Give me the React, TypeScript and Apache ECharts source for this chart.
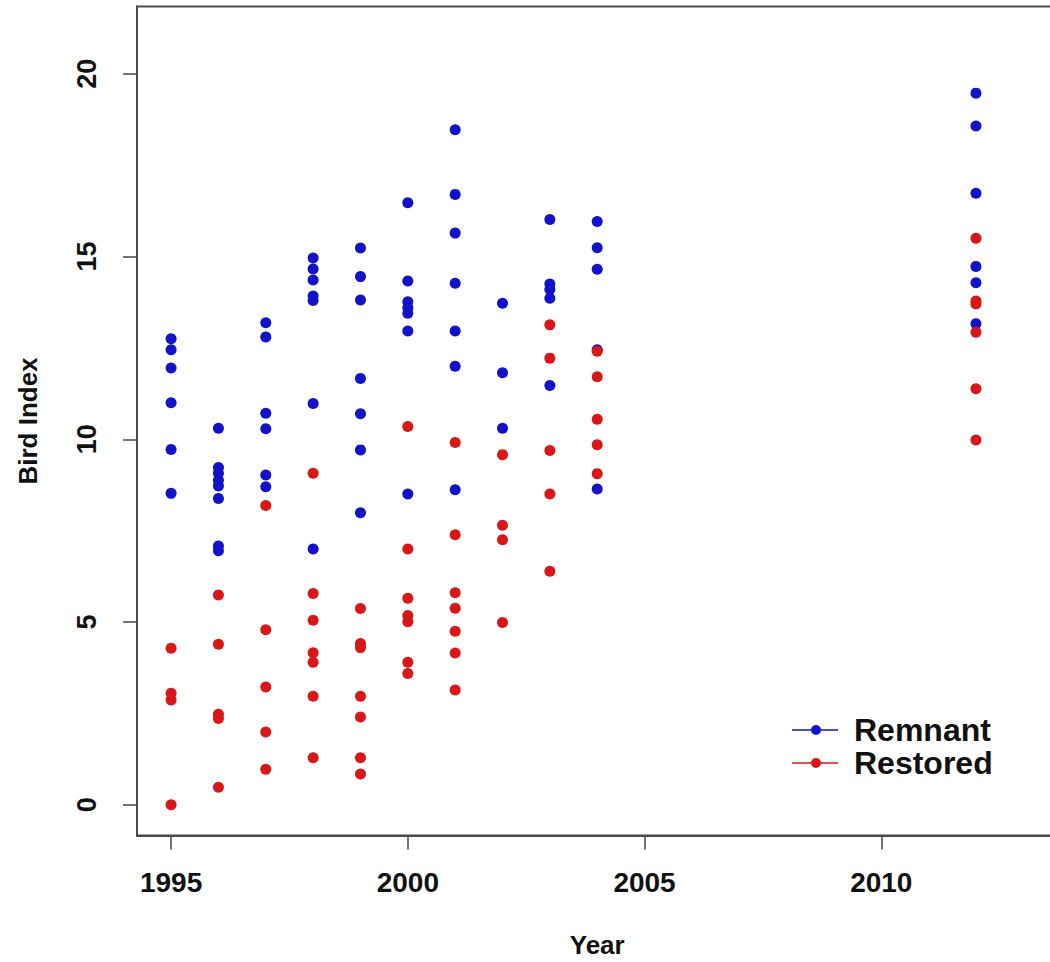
import { useEffect, useRef } from "react";
import * as echarts from "echarts";

const years = [1995, 1996, 1997, 1998, 1999, 2000, 2001, 2002, 2003, 2004, 2012];

const remnantValues: number[][] = [
  [12.75, 12.45, 11.95, 11.0, 9.72, 8.52],
  [10.3, 9.23, 9.07, 8.88, 8.72, 8.38, 7.08, 6.95],
  [13.19, 12.8, 10.71, 10.29, 9.02, 8.7],
  [14.96, 14.66, 14.36, 13.92, 13.8, 10.98, 7.0],
  [15.23, 14.45, 13.81, 11.66, 10.7, 9.71, 7.99],
  [16.47, 14.33, 13.76, 13.6, 13.45, 12.96, 8.5],
  [18.47, 16.7, 15.64, 14.27, 12.96, 12.0, 8.62],
  [13.72, 11.82, 10.3],
  [16.01, 14.25, 14.1, 13.86, 11.47],
  [15.96, 15.24, 14.65, 12.45, 8.64],
  [19.47, 18.57, 16.73, 14.73, 14.28, 13.16],
];

const restoredValues: number[][] = [
  [4.28, 3.05, 2.87, 0.0],
  [5.74, 4.39, 2.48, 2.36, 0.48],
  [8.19, 4.79, 3.22, 1.99, 0.97],
  [9.07, 5.78, 5.05, 4.16, 3.9, 2.97, 1.29],
  [5.37, 4.41, 4.3, 2.97, 2.4, 1.29, 0.84],
  [10.35, 7.0, 5.65, 5.18, 5.01, 3.9, 3.59],
  [9.91, 7.39, 5.8, 5.38, 4.75, 4.15, 3.14],
  [9.58, 7.65, 7.25, 4.99],
  [13.13, 12.22, 9.69, 8.5, 6.39],
  [12.41, 11.71, 10.55, 9.85, 9.06],
  [15.5, 13.78, 13.7, 12.93, 11.38, 9.98],
];

const xTicks = [1995, 2000, 2005, 2010];
const yTicks = [0, 5, 10, 15, 20];

const BLUE = "#1212c8";
const RED = "#d81818";
const FONT = "'Liberation Sans', Arial, Helvetica, sans-serif";
const BOX = "#4a4a4a";

function toPoints(vals: number[][]): number[][] {
  const out: number[][] = [];
  years.forEach((y, i) => vals[i].forEach((v) => out.push([y, v])));
  return out;
}

const legendIcon =
  "path://M0,4.3 L46,4.3 L46,5.7 L0,5.7 Z M29,5 A5,5 0 1 1 19,5 A5,5 0 1 1 29,5 Z";

export default function App() {
  const ref = useRef<HTMLDivElement>(null);

  useEffect(() => {
    if (!ref.current) return;
    const chart = echarts.init(ref.current, null, { renderer: "svg" });
    const tickStyle = { color: "#444", width: 1.5 };
    chart.setOption({
      animation: false,
      backgroundColor: "#ffffff",
      textStyle: { fontFamily: FONT },
      grid: {
        left: 137,
        top: 6.5,
        width: 920.4,
        height: 829,
        containLabel: false,
        outerBoundsMode: "none",
        show: true,
        borderColor: BOX,
        borderWidth: 2,
        backgroundColor: "transparent",
      },
      legend: {
        orient: "vertical",
        left: 792,
        top: 714,
        padding: 0,
        itemWidth: 46,
        itemHeight: 10,
        itemGap: 1,
        textStyle: {
          fontFamily: FONT,
          fontSize: 32,
          fontWeight: "bold",
          color: "#111",
          lineHeight: 32,
          padding: [0, 0, 0, 11],
        },
        data: [
          { name: "Remnant", icon: legendIcon },
          { name: "Restored", icon: legendIcon },
        ],
      },
      xAxis: {
        type: "value",
        position: "bottom",
        min: 1994.28,
        max: 2013.72,
        splitLine: { show: false },
        axisLine: { show: true, onZero: false, lineStyle: { color: BOX, width: 2 } },
        axisTick: {
          show: true,
          inside: false,
          customValues: xTicks,
          length: 14,
          lineStyle: tickStyle,
        },
        axisLabel: {
          customValues: xTicks,
          formatter: (v: number) => String(v),
          fontSize: 28,
          fontWeight: "bold",
          color: "#111",
          margin: 33,
          fontFamily: FONT,
        },
        name: "Year",
        nameLocation: "middle",
        nameGap: 96,
        nameTextStyle: {
          fontSize: 26,
          fontWeight: "bold",
          color: "#111",
          fontFamily: FONT,
        },
      },
      yAxis: {
        type: "value",
        position: "left",
        min: -0.84,
        max: 21.84,
        splitLine: { show: false },
        axisLine: { show: true, onZero: false, lineStyle: { color: BOX, width: 2 } },
        axisTick: {
          show: true,
          inside: false,
          customValues: yTicks,
          length: 14,
          lineStyle: tickStyle,
        },
        axisLabel: {
          customValues: yTicks,
          formatter: (v: number) => String(v),
          rotate: 90,
          fontSize: 27,
          fontWeight: "bold",
          color: "#111",
          margin: 37,
          fontFamily: FONT,
        },
        name: "Bird Index",
        nameLocation: "middle",
        nameGap: 96,
        nameRotate: 90,
        nameTextStyle: {
          fontSize: 26,
          fontWeight: "bold",
          color: "#111",
          fontFamily: FONT,
        },
      },
      series: [
        {
          name: "Remnant",
          type: "scatter",
          symbol: "circle",
          symbolSize: 11,
          itemStyle: { color: BLUE, opacity: 1 },
          data: toPoints(remnantValues),
        },
        {
          name: "Restored",
          type: "scatter",
          symbol: "circle",
          symbolSize: 11,
          itemStyle: { color: RED, opacity: 1 },
          data: toPoints(restoredValues),
        },
      ],
    });
    return () => chart.dispose();
  }, []);

  return (
    <div
      style={{
        position: "fixed",
        left: 0,
        top: 0,
        width: 1050,
        height: 962,
        overflow: "hidden",
        background: "#fff",
      }}
    >
      <div ref={ref} style={{ width: 1062, height: 962 }} />
    </div>
  );
}
